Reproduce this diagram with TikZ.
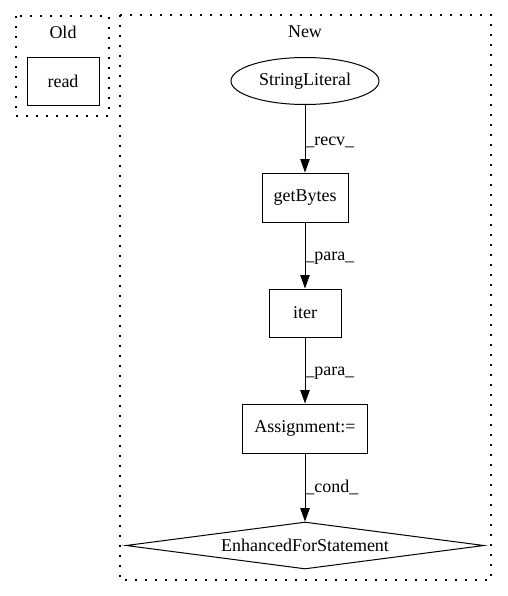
\documentclass[tikz,border=0pt]{standalone}
\usepackage{fontspec}
\setmainfont{Liberation Serif}
\usetikzlibrary{shapes.geometric,arrows.meta}
\begin{document}
\begin{tikzpicture}[x=0.75pt,y=-0.75pt,
  every node/.style={font=\fontsize{13.5}{16}\selectfont},
  box/.style={draw,line width=0.75pt,rectangle,inner sep=0pt},
  cluster/.style={draw,line width=0.9pt,dash pattern=on 1.5pt off 6pt},
  edge/.style={draw,line width=0.75pt,-{Triangle[length=10pt,width=7pt]}},
  elabel/.style={anchor=west,inner sep=0pt}
]
\useasboundingbox (0,0) rectangle (507,596);
% clusters
\draw[cluster] (16,16) rectangle (109,116);
\draw[cluster] (120,15) rectangle (491,580);
\node (oldlbl) at (63,32) {Old};
\node (newlbl) at (305,32) {New};
% nodes
\node[box,minimum width=54pt,minimum height=36pt] (read) at (63,81) {read};
\node[draw,line width=0.75pt,ellipse,inner sep=0pt,minimum width=111pt,minimum height=35.25pt] (sl) at (305,81) {StringLiteral};
\node[box,minimum width=64.5pt,minimum height=36.75pt] (gb) at (305,197.5) {getBytes};
\node[box,minimum width=54pt,minimum height=36pt] (iter) at (305,313) {iter};
\node[box,minimum width=93.75pt,minimum height=36.75pt] (asg) at (305,428.5) {Assignment:=};
\node[draw,line width=0.75pt,diamond,inner sep=0pt,aspect=7.6,minimum width=268.5pt,minimum height=35.25pt] (efs) at (305,545.5) {EnhancedForStatement};
% edges
\draw[edge] (sl) -- (gb);
\draw[edge] (gb) -- (iter);
\draw[edge] (iter) -- (asg);
\draw[edge] (asg) -- (efs);
% edge labels
\node[elabel] (l1) at (305,142) {\_recv\_};
\node[elabel] (l2) at (305,258) {\_para\_};
\node[elabel] (l3) at (305,373) {\_para\_};
\node[elabel] (l4) at (305,487) {\_cond\_};
\end{tikzpicture}
\end{document}
